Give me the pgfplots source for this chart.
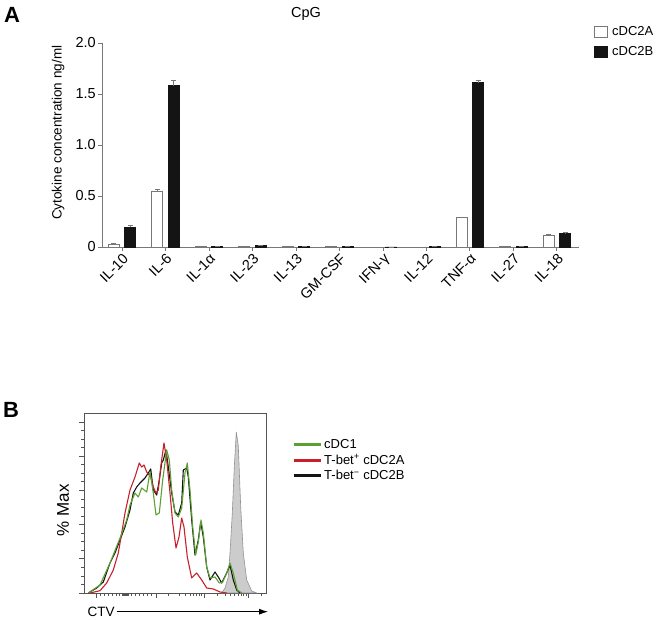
\documentclass[border=0pt]{standalone}
\usepackage{pgfplots}
\pgfplotsset{compat=1.18}
\usepackage{fontspec}
\setmainfont{Liberation Sans}
\usetikzlibrary{arrows.meta}
\newcommand{\fsz}[1]{\fontsize{#1}{#1}\selectfont}
\definecolor{axgray}{RGB}{120,120,120}
\definecolor{cgreen}{RGB}{92,160,52}
\definecolor{cred}{RGB}{200,32,42}
\definecolor{cblack}{RGB}{20,20,20}
\begin{document}
\begin{tikzpicture}[x=1bp,y=1bp]
\path[use as bounding box] (0,0) rectangle (663,620);
% panel labels
\node[font=\fsz{22bp}\bfseries] at (12,605) {A};
\node[font=\fsz{22bp}\bfseries] at (11,210) {B};
\node[font=\fsz{14.5bp}, anchor=base] at (306,602) {CpG};
% ---------------- Panel A ----------------
\begin{axis}[
  at={(102bp,373bp)}, anchor=south west,
  scale only axis, width=477bp, height=204bp,
  xmin=-0.46, xmax=10.51, ymin=0, ymax=2.0,
  axis lines=left, axis line style={-, draw=axgray, line width=0.8pt},
  xtick={0,...,10},
  xticklabels={IL-10,IL-6,IL-1α,IL-23,IL-13,GM-CSF,IFN-γ,IL-12,TNF-α,IL-27,IL-18},
  x tick label style={rotate=45, anchor=north east, font=\fsz{14.5bp}, inner sep=1pt},
  ytick={0,0.5,1,1.5,2}, yticklabels={0,0.5,1.0,1.5,2.0},
  y tick label style={font=\fsz{14.5bp}, inner sep=2pt},
  tick align=outside, major tick length=4bp,
  tick style={draw=axgray, line width=0.8pt},
  ylabel={Cytokine concentration ng/ml},
  ylabel style={font=\fsz{13.5bp}, at={(axis description cs:-0.092,0.56)}, anchor=center},
  legend style={at={(axis description cs:1.03,1.085)}, anchor=north west, draw=none, fill=none,
    font=\fsz{13bp}, row sep=8bp, inner sep=0pt,
    nodes={inner xsep=5bp, inner ysep=0pt}},
  legend cell align=left,
  legend image code/.code={\draw[#1] (0bp,-5bp) rectangle (13bp,6bp);},
  clip=false,
]
\addplot[ybar, bar width=11bp, bar shift=0pt, fill=white, draw=axgray, line width=0.7pt,
  error bars/.cd, y dir=plus, y explicit,
  error bar style={draw=axgray, line width=0.7pt},
  error mark options={rotate=90, mark size=2.5bp, draw=axgray}]
coordinates {
 (-0.19,0.030) +- (0,0.004)
 (0.81,0.545) +- (0,0.018)
 (1.81,0.004) +- (0,0)
 (2.81,0.003) +- (0,0)
 (3.81,0.003) +- (0,0)
 (4.81,0.002) +- (0,0)
 (5.81,0.000) +- (0,0)
 (6.81,0.001) +- (0,0)
 (7.81,0.290) +- (0,0.006)
 (8.81,0.003) +- (0,0)
 (9.81,0.115) +- (0,0.008)
};
\addlegendentry{cDC2A}
\addplot[ybar, bar width=11bp, bar shift=0pt, fill=cblack, draw=cblack, line width=0.7pt,
  error bars/.cd, y dir=plus, y explicit,
  error bar style={draw=axgray, line width=0.7pt},
  error mark options={rotate=90, mark size=2.5bp, draw=axgray}]
coordinates {
 (0.19,0.195) +- (0,0.020)
 (1.19,1.580) +- (0,0.060)
 (2.19,0.006) +- (0,0)
 (3.19,0.014) +- (0,0.002)
 (4.19,0.004) +- (0,0)
 (5.19,0.004) +- (0,0)
 (6.19,0.001) +- (0,0)
 (7.19,0.005) +- (0,0)
 (8.19,1.610) +- (0,0.030)
 (9.19,0.008) +- (0,0)
 (10.19,0.135) +- (0,0.006)
};
\addlegendentry{cDC2B}
\end{axis}
% ---------------- Panel B ----------------
\begin{axis}[
  at={(84bp,27bp)}, anchor=south west,
  scale only axis, width=182bp, height=180bp,
  xmin=84, xmax=266, ymin=0, ymax=180,
  axis line style={draw=axgray!70!black, line width=0.8pt},
  xtick={96,156,204,248},
  minor xtick={100,104,108,112,116,119,122,123,124,125,126,127,128,131,135,139,143,147,151,
    168,179,185,190,193.4,196.6,199.3,201.8,
    217,225,230.5,234.8,238.2,241.2,243.7,246,261},
  xticklabels={},
  ytick={0,34.2,68.4,102.6,136.8,171},
  minor ytick={8.55,17.1,25.65,42.75,51.3,59.85,76.95,85.5,94.05,111.15,119.7,128.25,145.35,153.9,162.45},
  yticklabels={},
  tick align=outside, xtick pos=left, ytick pos=left,
  major tick length=5bp, minor tick length=3bp,
  tick style={draw=axgray!70!black, line width=0.7pt},
  ylabel={\% Max},
  ylabel style={font=\fsz{17bp}, at={(axis description cs:-0.115,0.46)}, anchor=center},
  legend style={at={(axis description cs:1.143,0.865)}, anchor=north west, draw=none, fill=none,
    font=\fsz{13bp}, row sep=0.5bp, inner sep=0pt},
  legend cell align=left,
  legend image code/.code={\draw[#1, line width=3bp] (0bp,0bp) -- (27bp,0bp);},
  reverse legend,
  clip=false,
]
% grey reference histogram
\addplot[fill=gray!40, draw=gray!85, line width=0.6bp, forget plot] coordinates {
 (221.7,0) (225,5) (228.3,16) (230,40) (232.3,80) (234.3,126) (236.3,161)
 (238.3,147) (240.7,86) (243.3,40) (246.7,13) (251.7,2) (256.7,0)
} \closedcycle;
% T-bet- cDC2B (black)
\addplot[cblack, line width=1.1bp, line join=round] coordinates {
 (88.3,0) (96.7,5) (103.3,11) (110,30) (115,40) (120,53) (125,66) (130,83)
 (133.3,100) (136.7,106) (140,110) (145,115) (148.3,120) (150.7,124) (153.3,103)
 (156.7,98) (159.3,113) (161.7,130) (163.3,133) (166,143) (168.3,126) (171.7,100)
 (175,81) (178.3,78) (181.7,90) (183.3,123) (186.7,125) (188.3,116) (191.7,73)
 (195,38) (198.3,53) (200.7,71) (203.3,56) (206.7,26) (210,13) (215,21)
 (218.3,16) (221.7,10) (226.7,20) (230,28) (233.3,13) (236.7,3) (240,0)
};
\addlegendentry{T-bet\textsuperscript{−} cDC2B}
% T-bet+ cDC2A (red)
\addplot[cred, line width=1.1bp, line join=round] coordinates {
 (90,0) (100,2.3) (106.7,10) (113.3,23) (118.3,40) (121.7,60) (125,80) (130,103)
 (135,116) (139.3,130) (141.7,126) (144,128) (146.7,121) (150.7,116) (153.3,106)
 (156,100) (158.3,103) (160.7,126) (164,150) (166.7,133) (170,100) (172.7,70)
 (176,45) (179,56) (181.7,75) (184,66) (187.3,36) (191.7,15) (196.7,20)
 (201.7,13) (206.7,5) (213.3,4) (220,1) (226.7,0)
};
\addlegendentry{T-bet\textsuperscript{+} cDC2A}
% cDC1 (green)
\addplot[cgreen, line width=1.1bp, line join=round] coordinates {
 (88.3,0) (100,8) (110,30) (120,55) (126.7,73) (130,88) (135,100) (138.3,96)
 (141.7,105) (146.7,101) (150,121) (153.3,100) (156,78) (159.3,80) (162.7,113)
 (166.7,143) (169.3,133) (171.7,103) (175,80) (178.3,76) (181.7,85) (185,120)
 (187.3,130) (190,103) (192.7,66) (195.7,38) (198.3,51) (201,73) (203.3,60)
 (206.7,26) (210,15) (215,16) (219.3,10) (222.7,11) (226.7,20) (230,30)
 (233.3,20) (237.3,3) (241.7,0)
};
\addlegendentry{cDC1}
\end{axis}
% CTV axis label with arrow
\node[font=\fsz{13.5bp}, anchor=base west] at (84,3.3) {CTV};
\draw[line width=0.8bp, -{Latex[length=9bp,width=6bp]}] (117,8.3) -- (268,8.3);
\end{tikzpicture}
\end{document}
